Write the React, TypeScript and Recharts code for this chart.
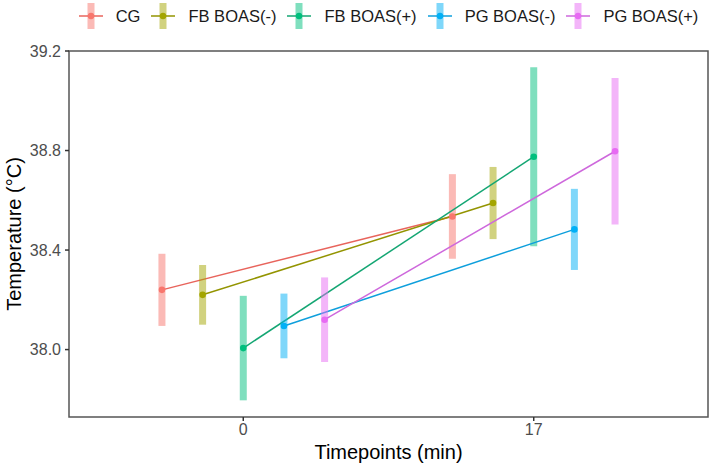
import React from 'react';
import { ComposedChart, Line, XAxis, YAxis, ErrorBar, ReferenceArea, Label } from 'recharts';

const groups = ['CG', 'FB BOAS(-)', 'FB BOAS(+)', 'PG BOAS(-)', 'PG BOAS(+)'];
const colors = ['#F8766D', '#A3A500', '#00BF7D', '#00B0F6', '#E76BF3'];
const lineColors = ['#E8645C', '#939400', '#14A673', '#0E9FDC', '#CE68DC'];
const timepoints = ['0', '17'];
const meanT0 = [38.24, 38.22, 38.006, 38.095, 38.12];
const meanT17 = [38.535, 38.589, 38.775, 38.483, 38.797];
const errT0 = [0.145, 0.12, 0.21, 0.13, 0.17];
const errT17 = [0.17, 0.145, 0.36, 0.163, 0.294];
const yTicks = [38.0, 38.4, 38.8, 39.2];

const DODGE = 0.7;
const X_DOMAIN: [number, number] = [0.4, 2.6];
const Y_DOMAIN: [number, number] = [37.729, 39.2];

const series = groups.map((g, i) => {
  const off = (i - (groups.length - 1) / 2) * (DODGE / groups.length);
  return {
    name: g,
    color: colors[i],
    lineColor: lineColors[i],
    data: [
      { x: 1 + off, y: meanT0[i], err: errT0[i] },
      { x: 2 + off, y: meanT17[i], err: errT17[i] },
    ],
  };
});

const FONT = '"Liberation Sans", Arial, Helvetica, sans-serif';

function LegendKey({ color, lineColor }: { color: string; lineColor: string }) {
  return (
    <svg width={24} height={28} style={{ display: 'block', flex: 'none' }}>
      <rect x={8.5} y={1} width={7} height={26} fill={color} fillOpacity={0.5} />
      <line x1={0} y1={14} x2={24} y2={14} stroke={lineColor} strokeWidth={1.5} />
      <circle cx={12} cy={14} r={3.2} fill={color} />
    </svg>
  );
}

function TopLegend() {
  return (
    <div
      style={{
        position: 'absolute',
        left: 69,
        top: 2,
        width: 639,
        display: 'flex',
        justifyContent: 'center',
        alignItems: 'center',
        fontFamily: FONT,
        fontSize: 16.5,
        color: '#1a1a1a',
      }}
    >
      {series.map((s, i) => (
        <div key={s.name} style={{ display: 'flex', alignItems: 'center', marginRight: i < series.length - 1 ? 11 : 0 }}>
          <LegendKey color={s.color} lineColor={s.lineColor} />
          <span style={{ marginLeft: 13, whiteSpace: 'nowrap' }}>{s.name}</span>
        </div>
      ))}
    </div>
  );
}

export default function App() {
  return (
    <div style={{ position: 'absolute', left: 0, top: 0, width: 714, height: 469, background: '#fff', fontFamily: FONT }}>
      <ComposedChart width={714} height={469} margin={{ top: 51, right: 6, bottom: 0, left: 0 }}>
        <XAxis
          dataKey="x"
          type="number"
          domain={X_DOMAIN}
          ticks={[1, 2]}
          allowDataOverflow
          tickFormatter={(v: number) => timepoints[Math.round(v) - 1]}
          height={52}
          tickSize={4}
          tickMargin={3}
          axisLine={false}
          tickLine={{ stroke: '#333', strokeWidth: 1.5 }}
          tick={{ fill: '#4d4d4d', fontSize: 16, fontFamily: FONT }}
        >
          <Label
            content={(props: any) => {
              const vb = props.viewBox || {};
              return (
                <text
                  x={vb.x + vb.width / 2}
                  y={452}
                  textAnchor="middle"
                  dominantBaseline="central"
                  fontSize={20}
                  fontFamily={FONT}
                  fill="#000"
                >
                  Timepoints (min)
                </text>
              );
            }}
          />
        </XAxis>
        <YAxis
          type="number"
          domain={Y_DOMAIN}
          ticks={yTicks}
          allowDataOverflow
          width={69}
          tickSize={4}
          tickMargin={4}
          axisLine={false}
          tickFormatter={(v: number) => v.toFixed(1)}
          tickLine={{ stroke: '#333', strokeWidth: 1.5 }}
          tick={{ fill: '#4d4d4d', fontSize: 16, fontFamily: FONT }}
        >
          <Label
            content={(props: any) => {
              const vb = props.viewBox || {};
              const cx = 14;
              const cy = vb.y + vb.height / 2;
              return (
                <text
                  x={cx}
                  y={cy}
                  transform={`rotate(-90 ${cx} ${cy})`}
                  textAnchor="middle"
                  dominantBaseline="central"
                  fontSize={20}
                  fontFamily={FONT}
                  fill="#000"
                >
                  Temperature (°C)
                </text>
              );
            }}
          />
        </YAxis>
        <ReferenceArea
          x1={X_DOMAIN[0]}
          x2={X_DOMAIN[1]}
          y1={Y_DOMAIN[0]}
          y2={Y_DOMAIN[1]}
          fill="none"
          stroke="#555"
          strokeWidth={1.5}
          ifOverflow="visible"
        />
        {series.map((s) => (
          <Line
            key={s.name}
            data={s.data}
            dataKey="y"
            name={s.name}
            stroke={s.lineColor}
            strokeWidth={1.5}
            dot={{ r: 3.3, fill: s.color, stroke: s.color, strokeWidth: 0 }}
            activeDot={false}
            isAnimationActive={false}
          >
            <ErrorBar dataKey="err" direction="y" width={0} stroke={s.color} strokeOpacity={0.5} strokeWidth={7} isAnimationActive={false} />
          </Line>
        ))}
      </ComposedChart>
      <TopLegend />
    </div>
  );
}
